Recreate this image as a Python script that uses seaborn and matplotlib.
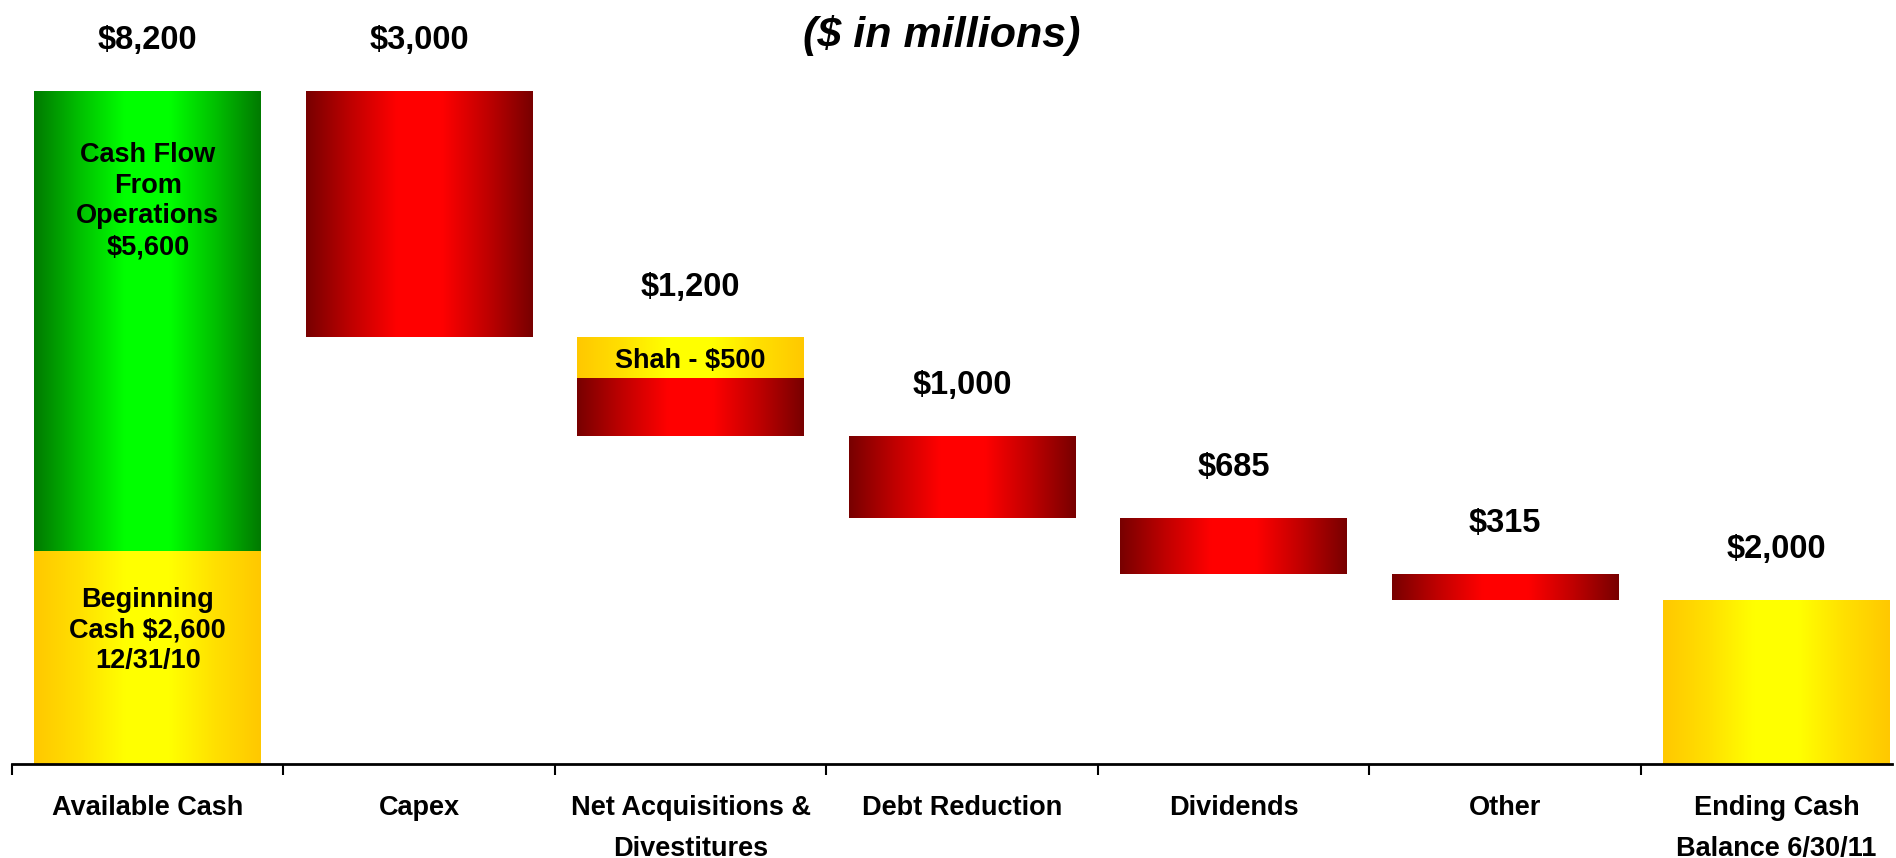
import numpy as np
import matplotlib
matplotlib.use('Agg')
import matplotlib.pyplot as plt
from matplotlib.colors import LinearSegmentedColormap
import seaborn as sns

categories = ['Available Cash', 'Capex', 'Net Acquisitions &\nDivestitures',
              'Debt Reduction', 'Dividends', 'Other', 'Ending Cash\nBalance 6/30/11']
beginning_cash = 2600
cash_from_ops = 5600
outflows = [3000, 1200, 1000, 685, 315]
shah = 500
ending_cash = 2000

sns.set_style('white')
plt.rcParams['font.family'] = ['Liberation Sans', 'DejaVu Sans']
plt.rcParams['font.weight'] = 'bold'
plt.rcParams['text.color'] = 'black'
plt.rcParams['xtick.color'] = 'black'
plt.rcParams['xtick.labelcolor'] = 'black'

# waterfall geometry from the data
available = beginning_cash + cash_from_ops
n = len(categories)
red_h = [0] * n
red_b = [0] * n
yel_h = [0] * n
yel_b = [0] * n
grn_h = [0] * n
grn_b = [0] * n
tops = [available]

yel_h[0] = beginning_cash
grn_h[0] = cash_from_ops
grn_b[0] = beginning_cash

running = available
for i, v in enumerate(outflows, start=1):
    tops.append(running)
    running -= v
    red_b[i] = running
    red_h[i] = v
    if i == 2:
        red_h[i] = v - shah
        yel_b[i] = running + v - shah
        yel_h[i] = shah
yel_h[n - 1] = ending_cash
tops.append(ending_cash)
values = [available] + outflows + [ending_cash]

reds = LinearSegmentedColormap.from_list('r', ['#780000', '#c00000', '#ff0000', '#ff0000', '#c00000', '#780000'])
greens = LinearSegmentedColormap.from_list('g', ['#007a00', '#00c000', '#00ff00', '#00ff00', '#00c000', '#007a00'])
yellows = LinearSegmentedColormap.from_list('y', ['#ffc800', '#ffe000', '#ffff00', '#ffff00', '#ffe000', '#ffc800'])

fig = plt.figure(figsize=(18.96, 8.58), dpi=100)
ax = fig.add_axes([12 / 1896, 94 / 858, 1880 / 1896, 764 / 858])

grad = np.linspace(0, 1, 256).reshape(1, -1)
for heights, bottoms, cmap in [(red_h, red_b, reds), (yel_h, yel_b, yellows), (grn_h, grn_b, greens)]:
    start = len(ax.patches)
    sns.barplot(x=list(range(n)), y=heights, bottom=bottoms, width=0.836,
                color='white', linewidth=0, ax=ax)
    for p in ax.patches[start:]:
        if p.get_height() <= 0:
            continue
        x0, y0 = p.get_x(), p.get_y()
        im = ax.imshow(grad, extent=(x0, x0 + p.get_width(), y0, y0 + p.get_height()),
                       aspect='auto', cmap=cmap, zorder=3, interpolation='bicubic')
        im.set_clip_path(p)

for i, (t, v) in enumerate(zip(tops, values)):
    ax.text(i, t + 610, f'${v:,.0f}', ha='center', va='center', fontsize=23.5,
            fontweight='bold', zorder=5)

ax.text(0, 6860, f'Cash Flow\nFrom\nOperations\n${cash_from_ops:,.0f}', ha='center',
        va='center', fontsize=19.5, fontweight='bold', linespacing=1.24, zorder=5)
ax.text(0, 1625, f'Beginning\nCash ${beginning_cash:,.0f}\n12/31/10', ha='center',
        va='center', fontsize=19.5, fontweight='bold', linespacing=1.24, zorder=5)
ax.text(2, yel_b[2] + shah / 2 - 40, f'Shah - ${shah:,.0f}', ha='center', va='center',
        fontsize=19.5, fontweight='bold', zorder=5)

ax.set_xlim(-0.5, 6.425)
ax.set_ylim(0, 764 / (673 / available))

ax.set_xticks(np.arange(-0.5, n - 0.5, 1))
ax.set_xticklabels([])
ax.set_xticks(range(n), minor=True)
ax.set_xticklabels(categories, minor=True, fontsize=19.5, fontweight='bold', linespacing=1.75)
ax.tick_params(axis='x', which='major', direction='out', length=8, width=1.5, color='black', bottom=True)
ax.tick_params(axis='x', which='minor', length=0, pad=22)
ax.set_yticks([])
ax.set_xlabel('')
ax.set_ylabel('')
for s in ['top', 'left', 'right']:
    ax.spines[s].set_visible(False)
ax.spines['bottom'].set_color('black')
ax.spines['bottom'].set_linewidth(2)
ax.spines['bottom'].set_zorder(6)

fig.text(942 / 1896, 1 - 36 / 858, '($ in millions)', ha='center', va='center',
         fontsize=31, fontweight='bold', fontstyle='italic')

fig.savefig('out.png', dpi=100)
